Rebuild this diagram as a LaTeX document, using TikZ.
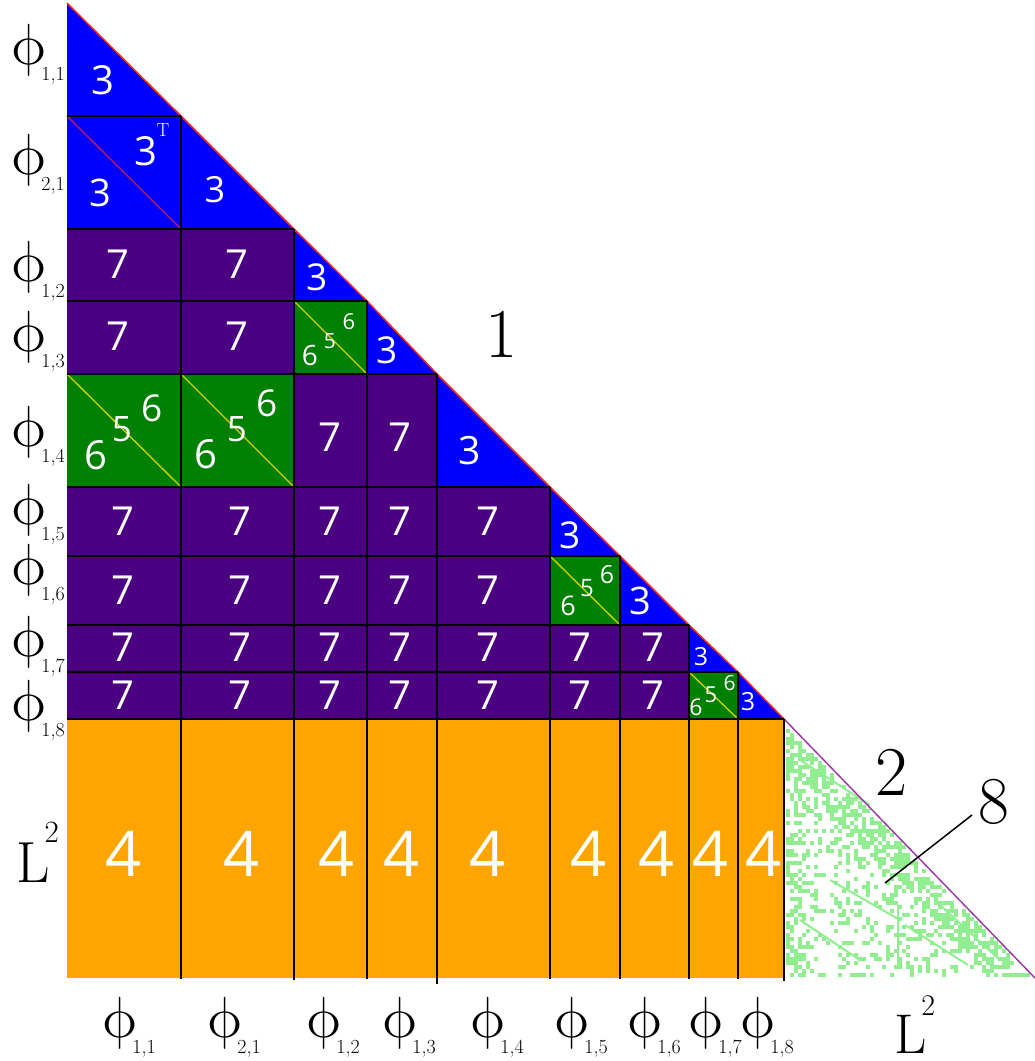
\documentclass[tikz,border=0pt]{standalone}
\usepackage{fontspec}
\newfontfamily\numfont{Open Sans}
\newfontfamily\lmm{Latin Modern Math}
\definecolor{cblue}{RGB}{0,0,255}
\definecolor{cpurple}{RGB}{75,0,130}
\definecolor{cgreen}{RGB}{0,128,0}
\definecolor{corange}{RGB}{255,165,0}
\definecolor{clight}{RGB}{144,238,144}
\definecolor{cyel}{RGB}{210,210,0}
\definecolor{cdiag}{RGB}{160,30,110}
\definecolor{cred}{RGB}{255,40,40}
\definecolor{cviolet}{RGB}{160,60,170}
\newcommand\phl[2]{{\lmm\fontsize{58}{58}\selectfont ϕ}\kern-6pt\raisebox{-16pt}{\fontsize{20}{20}\selectfont #1,#2}}
\begin{document}
\begin{tikzpicture}[x=1pt,y=-1pt,
  num/.style={text=white,inner sep=0pt,font=\numfont\fontsize{#1}{#1}\selectfont},
  lab/.style={inner sep=0pt,anchor=base west},
  bignum/.style={inner sep=0pt,font=\fontsize{#1}{#1}\selectfont},
  gridline/.style={line width=2pt,black},
  gdiag/.style={line width=1.3pt,cyel},
  streak/.style={line width=2pt,clight}]
\useasboundingbox (0,0) rectangle (1035,1061);
% ---- fills
\fill[cblue] (67,116) rectangle (181,229);
\fill[cpurple] (67,229) rectangle (294,374);
\fill[cpurple] (294,374) rectangle (437,487);
\fill[cpurple] (67,487) rectangle (550,625);
\fill[cpurple] (67,625) rectangle (689,719);
\fill[cgreen] (294,301) rectangle (367,374);
\fill[cgreen] (67,374) rectangle (294,487);
\fill[cgreen] (550,556) rectangle (620,625);
\fill[cgreen] (689,672) rectangle (738,719);
\fill[corange] (67,719) rectangle (784,978);
\foreach \xa/\ya/\xb/\yb in {67/3/181/116,181/116/294/229,294/229/367/301,367/301/437/374,437/374/550/487,550/487/620/556,620/556/689/625,689/625/738/672,738/672/784/719}
  \fill[cblue] (\xa,\ya) -- (\xa,\yb) -- (\xb,\yb) -- cycle;
% ---- sparse pattern of the L^2 block
\pgfmathsetseed{4321}
\foreach \i in {0,...,61}{
  \foreach \j in {0,...,63}{
    \pgfmathsetmacro\dd{4*\j+2-(4*\i+6)*1.032}
    \pgfmathtruncatemacro\ok{(\dd>0)*(rnd<ifthenelse(\dd<45,0.6,ifthenelse(\i<5,0.45,0.24)))}
    \ifnum\ok=1 \fill[clight] (786+4*\i,721+4*\j) rectangle ++(4,4);\fi
  }}
\draw[streak] (800,760) -- (870,805);
\draw[streak] (830,880) -- (900,920);
\draw[streak] (898,905) -- (898,968);
\draw[streak] (905,925) -- (968,965);
\draw[streak] (940,905) -- (1000,960);
\draw[streak] (800,920) -- (860,960);
% ---- diagonals inside blocks
\draw[line width=1.5pt,cdiag] (67,116) -- (181,229);
\draw[gdiag] (294,301) -- (367,374);
\draw[gdiag] (67,374) -- (181,487);
\draw[gdiag] (181,374) -- (294,487);
\draw[gdiag] (550,556) -- (620,625);
\draw[gdiag] (689,672) -- (738,719);
% ---- hypotenuse
\draw[line width=1.5pt,cred] (67,3) -- (181,116) -- (294,229) -- (367,301) -- (437,374) -- (550,487) -- (620,556) -- (689,625) -- (738,672) -- (784,719);
\draw[line width=1.5pt,cviolet] (784,719) -- (1035,978);
% ---- grid lines
\foreach \xx/\yy in {181/116,294/229,367/301,437/374,550/487,620/556,689/625,738/672,784/719}
  \draw[gridline] (67,\yy) -- (\xx,\yy);
\foreach \xx/\yy/\ye in {181/116/979,294/229/980,367/301/979,437/374/984,550/487/979,620/556/979,689/625/979,738/672/979,784/719/981}
  \draw[gridline] (\xx,\yy) -- (\xx,\ye);
% ---- block texts
\node[num=40] (t11) at (103,80) {3};
\node[num=38] (t21a) at (100,193) {3};
\node[num=40] (t21b) at (146,151) {3};
\node[inner sep=0pt,text=white,font=\fontsize{19}{19}\selectfont] (t21T) at (163,130) {T};
\node[num=36] (t22) at (215,190) {3};
\node[num=37] (t33) at (317,277) {3};
\node[num=37] (t44) at (387,350) {3};
\node[num=39] (t55) at (470,451) {3};
\node[num=37] (t66) at (570,535) {3};
\node[num=38] (t77) at (640,601) {3};
\node[num=25] (t88) at (701,657) {3};
\node[num=25] (t99) at (748,702) {3};
\foreach \x/\y [count=\k] in {118/264,237/264,118/336,237/336,330/437,400/437,
   123/521,240/521,330/521,400/521,488/521,
   123/590,240/590,330/590,400/590,488/590,
   123/647,240/647,330/647,400/647,488/647,580/647,653/647,
   123/695,240/695,330/695,400/695,488/695,580/695,653/695}
  \node[num=40,name=s\k] at (\x,\y) {7};
\foreach \x [count=\k] in {124,242,337,402,488,589,657,711,764}
  \node[num=63,name=f\k] at (\x,854) {4};
% green blocks
\node[num=40] (g1a) at (96,455) {6};
\node[num=35] (g1b) at (122,429) {5};
\node[num=37] (g1c) at (152,408) {6};
\node[num=40] (g2a) at (206,454) {6};
\node[num=35] (g2b) at (237,429) {5};
\node[num=37] (g2c) at (267,403) {6};
\node[num=28] (g3a) at (310,355) {6};
\node[num=21] (g3b) at (330,341) {5};
\node[num=22] (g3c) at (349,322) {6};
\node[num=27] (g4a) at (568,606) {6};
\node[num=24] (g4b) at (587,588) {5};
\node[num=25] (g4c) at (607,575) {6};
\node[num=23] (g5a) at (696,707) {6};
\node[num=22] (g5b) at (711,695) {5};
\node[num=21] (g5c) at (729.5,682.5) {6};
% ---- big labels
\node[bignum=70] (one) at (502,334) {1};
\node[bignum=70] (two) at (892,772) {2};
\node[bignum=67] (eight) at (994,802) {8};
\coordinate (p8) at (885,883);
\draw[line width=1.5pt] ([shift={(-22,13)}]eight.center) -- (p8);
% ---- row labels
\node[lab] (r1) at (10,64) {\phl{1}{1}};
\node[lab] (r2) at (10,174) {\phl{2}{1}};
\node[lab] (r3) at (10,281) {\phl{1}{2}};
\node[lab] (r4) at (10,351) {\phl{1}{3}};
\node[lab] (r5) at (10,446) {\phl{1}{4}};
\node[lab] (r6) at (10,524) {\phl{1}{5}};
\node[lab] (r7) at (10,584) {\phl{1}{6}};
\node[lab] (r8) at (10,656) {\phl{1}{7}};
\node[lab] (r9) at (10,720) {\phl{1}{8}};
\node[lab,font=\fontsize{58}{58}\selectfont] (r10) at (16,882) {L\kern-5pt\raisebox{40pt}{\fontsize{31}{31}\selectfont 2}};
% ---- column labels
\node[lab] (c1) at (101,1037) {\phl{1}{1}};
\node[lab] (c2) at (206,1037) {\phl{2}{1}};
\node[lab] (c3) at (305,1037) {\phl{1}{2}};
\node[lab] (c4) at (381,1037) {\phl{1}{3}};
\node[lab] (c5) at (469,1037) {\phl{1}{4}};
\node[lab] (c6) at (553,1037) {\phl{1}{5}};
\node[lab] (c7) at (626,1037) {\phl{1}{6}};
\node[lab] (c8) at (687,1037) {\phl{1}{7}};
\node[lab] (c9) at (739,1037) {\phl{1}{8}};
\node[lab,font=\fontsize{56}{56}\selectfont] (c10) at (894,1053) {L\kern-5pt\raisebox{38pt}{\fontsize{30}{30}\selectfont 2}};
\end{tikzpicture}
\end{document}
